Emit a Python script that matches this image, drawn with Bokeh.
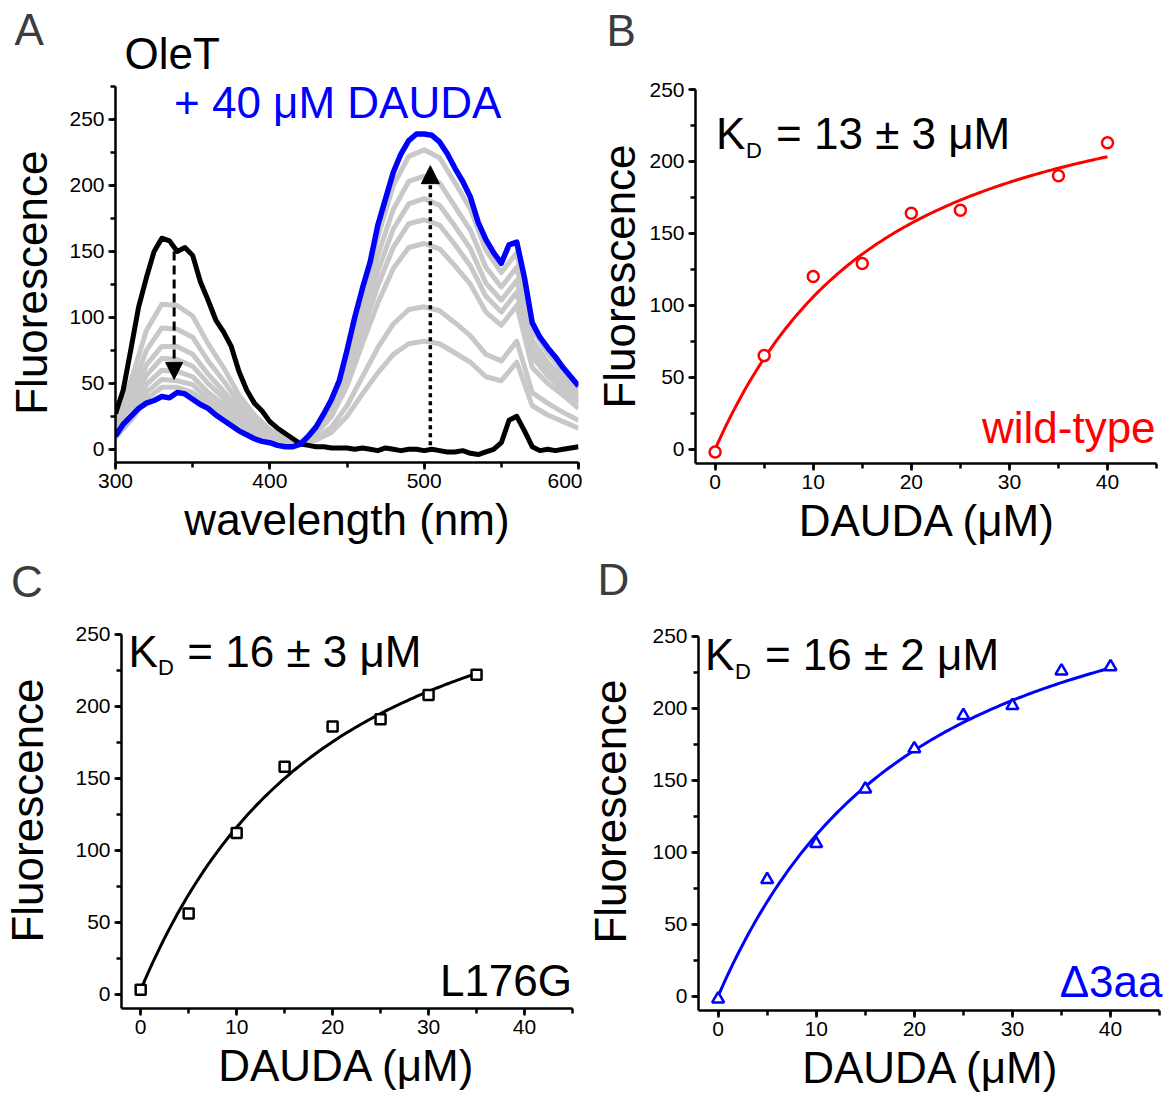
import numpy as np
from bokeh.plotting import figure
from bokeh.layouts import row, column
from bokeh.models import Range1d, SingleIntervalTicker, Label, Arrow, NormalHead
from bokeh.embed import file_html
from bokeh.resources import INLINE

FONT = "Liberation Sans"

# ---------------- Panel A: emission spectra ----------------
wl_5nm = list(range(300, 601, 5))
# OleT alone (no DAUDA)
oleT_alone = [27, 45, 76, 108, 130, 150, 160, 158, 150, 153, 147, 127, 113, 98, 89, 78,
              59, 45, 35, 29, 21, 16, 12, 8, 4, 3, 2, 2, 1, 1, 1, 0, 1, 0, -1, 1,
              0, -1, 0, 0, -1, 0, -1, -2, -2, -1, -3, -4, -2, 0, 5, 22, 25, 14, 2, -1,
              0, -1, 0, 1, 2]
# OleT + 40 uM DAUDA
oleT_dauda40 = [10, 19, 25, 31, 35, 37, 40, 39, 43, 42, 38, 34, 31, 26, 22, 18,
                14, 11, 8, 6, 5, 3, 2, 2, 4, 10, 17, 27, 38, 52, 75, 100,
                122, 142, 170, 190, 210, 224, 234, 239, 239, 238, 233, 224, 213, 203, 191, 172,
                159, 149, 141, 155, 157, 130, 96, 85, 77, 70, 62, 55, 48]

# intermediate titration points (5 - 35 uM DAUDA)
wl_10nm = list(range(300, 601, 10))
dauda_5 = [20, 52, 90, 110, 109, 101, 80, 62, 41, 26, 15, 8, 5, 7, 13, 25,
           42, 58, 72, 80, 82, 80, 73, 66, 55, 52, 66, 33, 26, 21, 16]
dauda_10 = [17, 43, 75, 92, 91, 85, 67, 52, 35, 22, 12, 7, 5, 8, 17, 33,
            55, 77, 95, 106, 108, 105, 96, 86, 72, 67, 82, 43, 35, 28, 22]
dauda_15 = [14, 37, 64, 78, 78, 72, 57, 44, 30, 18, 10, 6, 5, 12, 25, 48,
            80, 111, 137, 153, 156, 152, 139, 125, 104, 94, 109, 62, 50, 41, 31]
dauda_20 = [13, 32, 56, 69, 68, 63, 50, 39, 26, 16, 9, 5, 5, 13, 28, 54,
            89, 124, 153, 171, 174, 170, 155, 139, 116, 104, 119, 70, 56, 45, 35]
dauda_25 = [11, 28, 49, 60, 59, 55, 43, 34, 23, 14, 8, 4, 5, 14, 30, 59,
            97, 135, 167, 186, 190, 185, 169, 152, 126, 113, 128, 76, 61, 49, 38]
dauda_30 = [10, 25, 43, 53, 52, 49, 38, 30, 20, 12, 7, 4, 5, 15, 33, 64,
            106, 147, 182, 203, 207, 202, 184, 166, 138, 123, 138, 83, 66, 54, 41]
dauda_35 = [9, 22, 38, 47, 47, 43, 34, 26, 18, 11, 6, 3, 5, 16, 36, 70,
            116, 161, 200, 222, 227, 221, 202, 182, 151, 134, 149, 91, 73, 59, 45]
titration_spectra = [dauda_5, dauda_10, dauda_15, dauda_20, dauda_25, dauda_30, dauda_35]

# arrows marking the direction of change
arrow_down_wl, arrow_down_from, arrow_down_to = 338, 150, 53
arrow_up_wl, arrow_up_from, arrow_up_to = 504, 3, 215

# ---------------- Panels B-D: titrations ----------------
dauda_wt = [0, 5, 10, 15, 20, 25, 35, 40]
fluor_wt = [-2, 65, 120, 129, 164, 166, 190, 213]

dauda_l176g = [0, 5, 10, 15, 20, 25, 30, 35]
fluor_l176g = [3, 56, 112, 158, 186, 191, 208, 222]

dauda_d3aa = [0, 5, 10, 15, 20, 25, 30, 35, 40]
fluor_d3aa = [-2, 81, 106, 144, 172, 195, 202, 226, 229]

# fitted binding parameters (uM) and amplitudes
kd_wt, kd_wt_err = 13, 3
kd_l176g, kd_l176g_err = 16, 3
kd_d3aa, kd_d3aa_err = 16, 2
fmax_wt, fmax_l176g, fmax_d3aa = 276, 331, 328
f0_wt, f0_l176g, f0_d3aa = 0, 3, 0
protein_conc = 5.0


def bound_fraction(lig, kd, p=protein_conc):
    """Quadratic (tight-binding) isotherm."""
    s = p + lig + kd
    return (s - np.sqrt(s * s - 4.0 * p * lig)) / (2.0 * p)


def style_axes(p, x_int, y_int, xbounds, ybounds, ylab_standoff, xlab_standoff=4):
    p.outline_line_color = None
    p.xgrid.visible = False
    p.ygrid.visible = False
    p.xaxis.ticker = SingleIntervalTicker(interval=x_int, num_minor_ticks=2)
    p.yaxis.ticker = SingleIntervalTicker(interval=y_int, num_minor_ticks=2)
    p.xaxis.bounds = xbounds
    p.yaxis.bounds = ybounds
    for ax in p.axis:
        ax.axis_line_width = 2.5
        ax.axis_line_color = "black"
        ax.major_tick_line_width = 2.5
        ax.minor_tick_line_width = 2.5
        ax.major_tick_out = 7
        ax.major_tick_in = 0
        ax.minor_tick_out = 5
        ax.minor_tick_in = 0
        ax.major_label_text_font = FONT
        ax.major_label_text_font_size = "21px"
        ax.major_label_text_color = "black"
        ax.major_label_standoff = 4
        ax.axis_label_text_font = FONT
        ax.axis_label_text_font_size = "44px"
        ax.axis_label_text_font_style = "normal"
        ax.axis_label_text_color = "black"
    p.yaxis.axis_label_standoff = ylab_standoff
    p.xaxis.axis_label_standoff = xlab_standoff


def make_fig(width, height, left, right, top, bottom, xr, yr):
    return figure(width=width, height=height, x_range=Range1d(*xr), y_range=Range1d(*yr),
                  output_backend="svg", toolbar_location=None, tools="",
                  min_border_left=left, min_border_right=right,
                  min_border_top=top, min_border_bottom=bottom, frame_align=False,
                  background_fill_color="white", border_fill_color="white")


def make_header(width, height):
    """Strip above a panel holding the panel letter (pixel coordinates)."""
    h = figure(width=width, height=height, x_range=Range1d(0, width), y_range=Range1d(0, height),
               output_backend="svg", toolbar_location=None, tools="",
               x_axis_type=None, y_axis_type=None, min_border=0, frame_align=False,
               background_fill_color="white", border_fill_color="white")
    h.outline_line_color = None
    h.grid.visible = False
    return h


# the alphabetic anchor of a Label lands ~0.36 em low in the SVG output; lift it
LIFT = 0.36


def text(p, x, y, s, size=44, color="black", align="left", px_per_unit=1.0):
    p.add_layout(Label(x=x, y=y + LIFT * size / px_per_unit, text=s, text_font=FONT,
                       text_font_size=f"{size}px", text_color=color,
                       text_align=align, text_baseline="alphabetic"))


PXY = 1.4385    # px per fluorescence unit in panels B-D
PXX = 9.809     # px per uM in panels B-D
PXY_A = 1.3193  # px per fluorescence unit in panel A


def kd_label(p, x, y, kd, err):
    text(p, x, y, "K", px_per_unit=PXY)
    text(p, x + 30 / PXX, y - 8.6 / PXY, "D", size=22, px_per_unit=PXY)
    text(p, x + 60 / PXX, y, f"= {kd} \u00b1 {err} \u03bcM", px_per_unit=PXY)


LETTER = "#3c3c3c"
HEAD_A, HEAD_B, HEAD_ROW2 = 78, 70, 62

# ---------------- Panel A ----------------
hA = make_header(582, HEAD_A)
text(hA, 14, HEAD_A - 45, "A", color=LETTER)
text(hA, 124, HEAD_A - 68.5, "OleT")

# frame reaches the top of the figure so the blue caption is not clipped;
# the y axis itself stops at 275
pA = make_fig(582, 550 - HEAD_A, 115, 4, 0, 88,
              (300, 600), (-10, 275 + (86 - HEAD_A) / PXY_A))
style_axes(pA, 100, 50, (300, 600), (-10, 275), 10)
pA.xaxis.axis_label = "wavelength (nm)"
# two no-break spaces keep the label centred on the drawn axis rather than the taller frame
pA.yaxis.axis_label = "Fluorescence\u00a0\u00a0"
for spec in titration_spectra:
    pA.line(wl_10nm, spec, line_color="#c8c8c8", line_width=5, line_join="round")
pA.line(wl_5nm, oleT_alone, line_color="black", line_width=5, line_join="round")
pA.line(wl_5nm, oleT_dauda40, line_color="#0000ff", line_width=5.5, line_join="round")
pA.add_layout(Arrow(x_start=arrow_down_wl, y_start=arrow_down_from,
                    x_end=arrow_down_wl, y_end=arrow_down_to,
                    line_width=3, line_dash="9 5", line_color="black",
                    end=NormalHead(size=17, fill_color="black", line_color="black", line_width=1)))
pA.add_layout(Arrow(x_start=arrow_up_wl, y_start=arrow_up_from,
                    x_end=arrow_up_wl, y_end=arrow_up_to,
                    line_width=3.5, line_dash="4 4", line_color="black",
                    end=NormalHead(size=18, fill_color="black", line_color="black", line_width=1)))
text(pA, 337.9, 250.5, "+ 40 \u03bcM DAUDA", color="#0000ff", px_per_unit=PXY_A)

# ---------------- Panel B ----------------
hB = make_header(582, HEAD_B)
text(hB, 24, HEAD_B - 45.5, "B", color=LETTER)

pB = make_fig(582, 550 - HEAD_B, 113, 5, 89 - HEAD_B, 87, (-2, 45.3), (-10, 250))
style_axes(pB, 10, 50, (-2, 45), (-10, 250), 2)
pB.xaxis.axis_label = "DAUDA (\u03bcM)"
pB.yaxis.axis_label = "Fluorescence"
xb = np.linspace(0, max(dauda_wt), 161)
pB.line(xb, f0_wt + fmax_wt * bound_fraction(xb, kd_wt), line_color="#ff0000", line_width=3)
pB.scatter(dauda_wt, fluor_wt, marker="circle", size=11, fill_color="white",
           line_color="#ff0000", line_width=2.5)
kd_label(pB, 0.1, 208.3, kd_wt, kd_wt_err)
text(pB, 44.9, 3.9, "wild-type", color="#ff0000", align="right", px_per_unit=PXY)

# ---------------- Panel C ----------------
hC = make_header(582, HEAD_ROW2)
text(hC, 10.5, HEAD_ROW2 - 47, "C", color=LETTER)

pC = make_fig(582, 547 - HEAD_ROW2, 111, 10, 0, 89,
              (-2, 45), (-10, 250 + (84 - HEAD_ROW2) / PXY))
style_axes(pC, 10, 50, (-2, 45), (-10, 250), 20)
pC.xaxis.axis_label = "DAUDA (\u03bcM)"
pC.yaxis.axis_label = "Fluorescence"
xc = np.linspace(0, max(dauda_l176g), 141)
pC.line(xc, f0_l176g + fmax_l176g * bound_fraction(xc, kd_l176g), line_color="black", line_width=3)
pC.scatter(dauda_l176g, fluor_l176g, marker="square", size=10, fill_color="white",
           line_color="black", line_width=2.5)
kd_label(pC, -1.26, 227.3, kd_l176g, kd_l176g_err)
text(pC, 44.95, -1.65, "L176G", align="right", px_per_unit=PXY)

# ---------------- Panel D ----------------
hD = make_header(582, HEAD_ROW2)
text(hD, 15, HEAD_ROW2 - 45.3, "D", color=LETTER)

pD = make_fig(582, 547 - HEAD_ROW2, 116, 1, 0, 87,
              (-2, 45.4), (-10, 250 + (86 - HEAD_ROW2) / PXY))
style_axes(pD, 10, 50, (-2, 45), (-10, 250), 14)
pD.xaxis.axis_label = "DAUDA (\u03bcM)"
pD.yaxis.axis_label = "Fluorescence"
xd = np.linspace(0, max(dauda_d3aa), 161)
pD.line(xd, f0_d3aa + fmax_d3aa * bound_fraction(xd, kd_d3aa), line_color="#0000ff", line_width=3)
pD.scatter(dauda_d3aa, fluor_d3aa, marker="triangle", size=12, fill_color="white",
           line_color="#0000ff", line_width=2.5)
kd_label(pD, -1.35, 226.2, kd_d3aa, kd_d3aa_err)
text(pD, 45.3, -0.75, "\u03943aa", color="#0000ff", align="right", px_per_unit=PXY)

layout = column(row(column(hA, pA), column(hB, pB)),
                row(column(hC, pC), column(hD, pD)))
open("out.html", "w").write(file_html(layout, INLINE))
